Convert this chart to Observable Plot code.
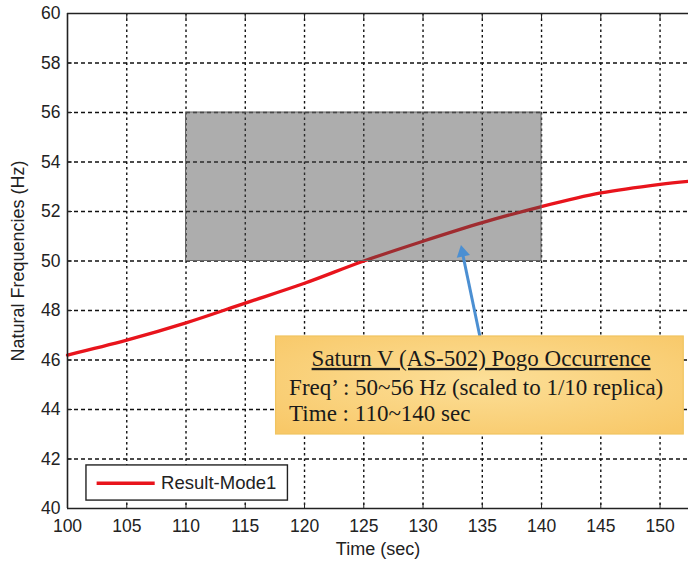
<!DOCTYPE html>
<html><head><meta charset="utf-8">
<script src="https://cdn.jsdelivr.net/npm/d3@7"></script>
<script src="https://cdn.jsdelivr.net/npm/@observablehq/plot@0.6"></script>
<style>body{margin:0;background:#fff;} #chart svg{display:block;}</style>
</head><body><div id="chart"></div>
<script>
// ---- data ----
const time = [100, 105, 110, 115, 120, 125, 130, 135, 140, 145, 150, 152.4];
const freq = [46.2, 46.8, 47.5, 48.3, 49.1, 50.0, 50.8, 51.55, 52.2, 52.75, 53.1, 53.22];
const xTicks = [100, 105, 110, 115, 120, 125, 130, 135, 140, 145, 150];
const yTicks = [40, 42, 44, 46, 48, 50, 52, 54, 56, 58, 60];
const pogoTime = [110, 140];
const pogoFreq = [50, 56];
const seriesName = "Result-Mode1";
const noteTitle = "Saturn V (AS-502) Pogo Occurrence";
const noteLines = ["Freq\u2019 : 50~56 Hz (scaled to 1/10 replica)", "Time : 110~140 sec"];
const noteBoxX = [117.6, 152.0];
const noteBoxY = [42.99, 46.95];
const noteTitlePos = [134.9, 46.06];
const noteLinesX = 118.7;
const noteLinesY = [44.89, 43.84];
const arrowFrom = [134.8, 46.95];
const arrowTo = [133.25, 50.5];
const legendBoxX = [101.6, 118.6];
const legendBoxY = [40.32, 41.74];
const legendLineX = [102.5, 107.4];
const legendY = 41.02;
const legendTextX = 107.9;

const curve = time.map((t, i) => ({t, f: freq[i]}));
const font = "Liberation Sans, Arial, sans-serif";
const serif = "Liberation Serif, Times New Roman, serif";

const chart = Plot.plot({
  width: 688, height: 561,
  marginLeft: 67, marginRight: 0, marginTop: 13, marginBottom: 53,
  style: {fontFamily: font, fontSize: "17.5px", color: "#222", background: "#fff"},
  x: {domain: [100, 152.4], ticks: xTicks},
  y: {domain: [40, 60], ticks: yTicks},
  marks: [
    Plot.ruleY(yTicks.filter(d => d > 40 && d < 60), {stroke: "#111", strokeWidth: 1.4, strokeDasharray: "4,3"}),
    Plot.ruleX(xTicks.filter(d => d > 100), {stroke: "#111", strokeWidth: 1.4, strokeDasharray: "2.5,3"}),
    Plot.line(curve, {x: "t", y: "f", stroke: "#e8141c", strokeWidth: 3.3, curve: "catmull-rom"}),
    Plot.rect([0], {x1: pogoTime[0], x2: pogoTime[1], y1: pogoFreq[0], y2: pogoFreq[1], fill: "#4a4a4a", fillOpacity: 0.45, stroke: "#666", strokeWidth: 1}),
    Plot.link([0], {x1: arrowFrom[0], y1: arrowFrom[1], x2: arrowTo[0], y2: arrowTo[1], stroke: "#4b8fd2", strokeWidth: 3}),
    Plot.dot([0], {x: arrowTo[0], y: arrowTo[1], dy: 4, dx: 1, symbol: "triangle", r: 5, fill: "#4b8fd2", stroke: "none", rotate: -12}),
    Plot.rect([0], {x1: noteBoxX[0], x2: noteBoxX[1], y1: noteBoxY[0], y2: noteBoxY[1], fill: "url(#noteGrad)", stroke: "#f0c460", strokeWidth: 1.2}),
    Plot.text([noteTitle], {x: noteTitlePos[0], y: noteTitlePos[1], text: d => d, textAnchor: "middle", lineAnchor: "middle",
      fontFamily: serif, fontSize: 23, fill: "#1a1a1a"}),
    Plot.text(noteLines, {x: noteLinesX, y: (d, i) => noteLinesY[i], text: d => d, textAnchor: "start", lineAnchor: "middle",
      fontFamily: serif, fontSize: 23, fill: "#1a1a1a"}),
    Plot.rect([0], {x1: legendBoxX[0], x2: legendBoxX[1], y1: legendBoxY[0], y2: legendBoxY[1], fill: "#fff", stroke: "#222", strokeWidth: 1.4}),
    Plot.ruleY([legendY], {x1: legendLineX[0], x2: legendLineX[1], stroke: "#e8141c", strokeWidth: 3.5}),
    Plot.text([seriesName], {x: legendTextX, y: legendY, text: d => d, textAnchor: "start", lineAnchor: "middle", fontSize: 18.5, fill: "#222"}),
    Plot.ruleY([40, 60], {stroke: "#222", strokeWidth: 1.6}),
    Plot.ruleX([100], {stroke: "#222", strokeWidth: 1.6}),
    Plot.axisX(xTicks, {anchor: "bottom", tickSize: -5, tickPadding: 16, fontSize: 17.5, fill: "#222", label: "Time (sec)", labelAnchor: "center", labelArrow: "none", labelOffset: 46, stroke: "#222"}),
    Plot.axisX(xTicks, {anchor: "top", tickSize: -5, tickFormat: () => "", label: null, stroke: "#222"}),
    Plot.axisY(yTicks, {anchor: "left", tickSize: -5, tickPadding: 12, fontSize: 17.5, fill: "#222", label: "Natural Frequencies (Hz)", labelAnchor: "center", labelArrow: "none", labelOffset: 56, stroke: "#222"})
  ]
});

const svg = d3.select(chart);
// gradient for annotation box
const defs = svg.insert("defs", ":first-child");
const g = defs.append("radialGradient").attr("id", "noteGrad").attr("cx", "50%").attr("cy", "45%").attr("r", "70%");
g.append("stop").attr("offset", "0%").attr("stop-color", "#fcdf98");
g.append("stop").attr("offset", "100%").attr("stop-color", "#f8c868");
// underline the title of the note
svg.selectAll("text").filter(function() { return this.textContent === noteTitle; }).style("text-decoration", "underline");
// axis titles
svg.selectAll("text").filter(function() { return this.textContent === "Time (sec)" || this.textContent === "Natural Frequencies (Hz)"; }).style("font-size", "18px");

document.getElementById("chart").appendChild(chart);
</script></body></html>
